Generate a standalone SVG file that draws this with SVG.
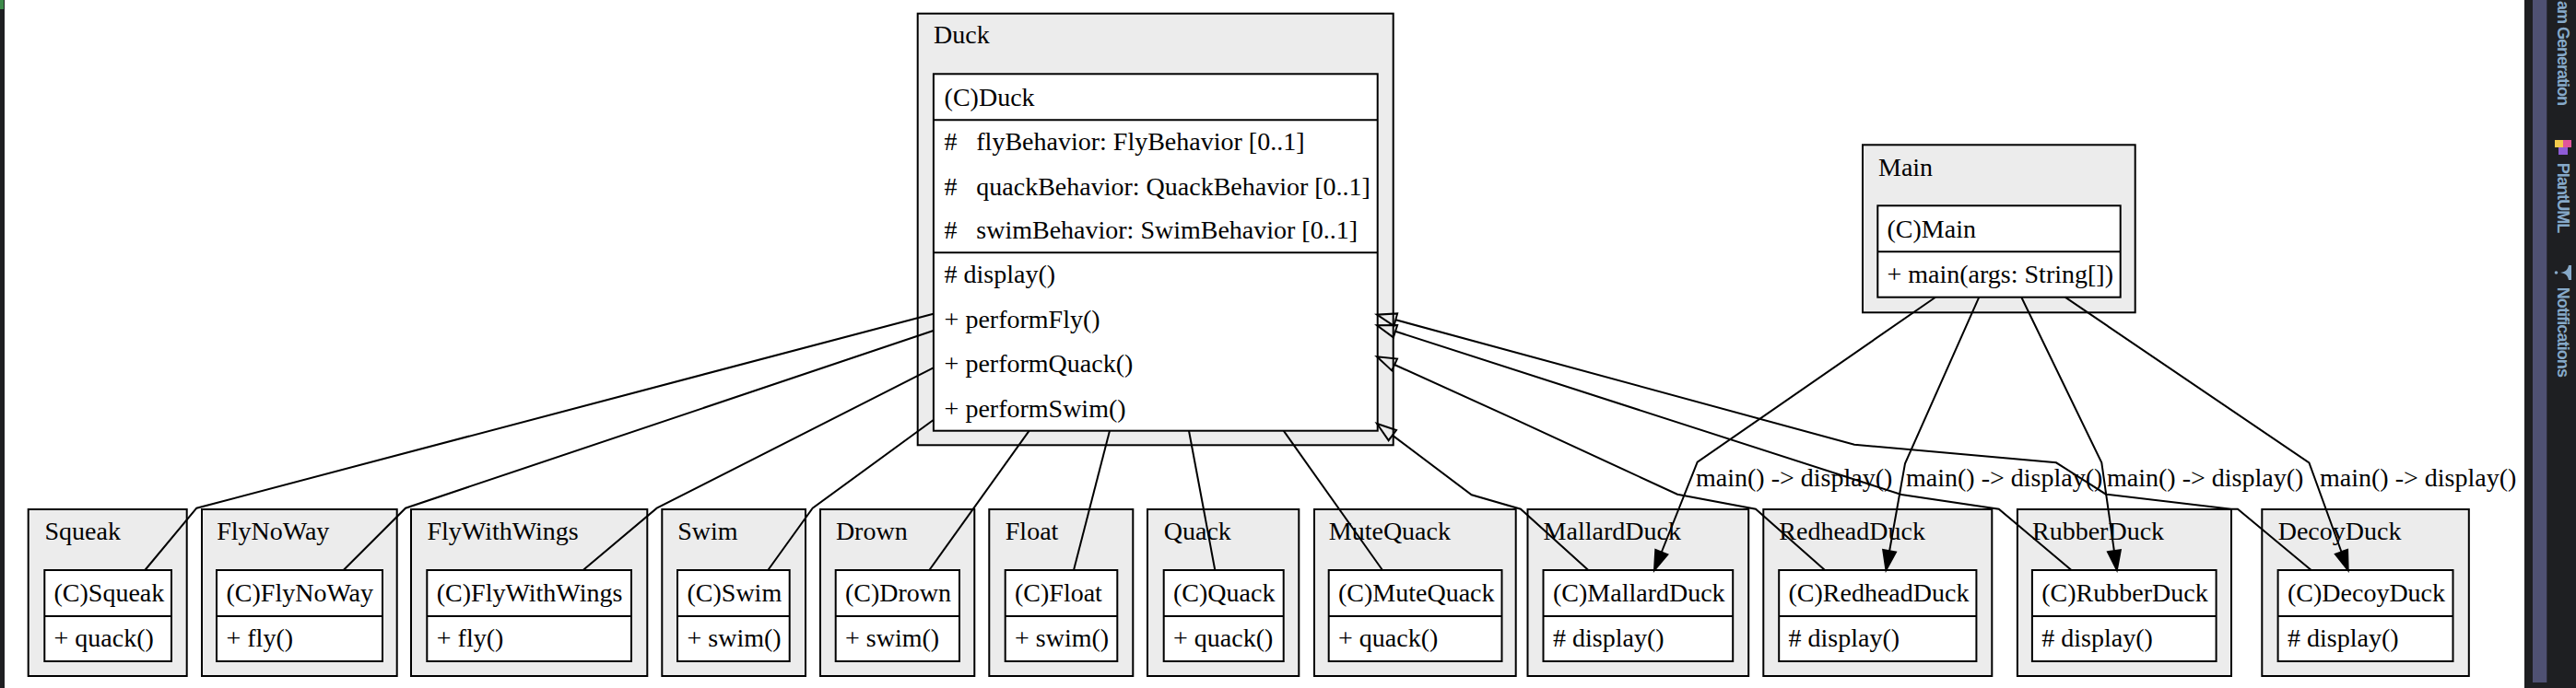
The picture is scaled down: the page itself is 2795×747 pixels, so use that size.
<svg xmlns="http://www.w3.org/2000/svg" width="2795" height="747" viewBox="0 0 2795 747">
<style>
.o{fill:#ececec;stroke:#000;stroke-width:2}
.i{fill:#fff;stroke:#000;stroke-width:2}
.d{stroke:#000;stroke-width:2}
.t{font-family:"Liberation Serif","Times New Roman",serif;font-size:28px;fill:#000}
.e{fill:none;stroke:#000;stroke-width:2}
.h{marker-end:url(#tri)}
.a{marker-end:url(#arr)}
.side{font-family:"Liberation Sans",Arial,sans-serif;font-size:18px;font-weight:600;fill:#86a9c9}
</style>
<defs>
<marker id="tri" markerUnits="userSpaceOnUse" orient="auto" refX="0" refY="0" markerWidth="30" markerHeight="20" viewBox="-2 -10 30 20" overflow="visible"><path d="M0,-7 L21,0 L0,7 Z" fill="none" stroke="#000" stroke-width="2"/></marker>
<marker id="arr" markerUnits="userSpaceOnUse" orient="auto" refX="0" refY="0" markerWidth="30" markerHeight="20" viewBox="-2 -10 30 20" overflow="visible"><path d="M0,-7 L21,0 L0,7 Z" fill="#000" stroke="#000" stroke-width="2"/></marker>
</defs>
<rect x="0" y="0" width="2795" height="747" fill="#fff"/>
<rect x="0" y="0" width="5" height="747" fill="#1e1f22"/>
<rect x="0" y="0" width="4" height="10" fill="#3d8a4a"/>

<g id="Duck">
<rect class="o" x="995.7" y="14.7" width="516" height="468.6"/>
<text class="t" x="1013" y="46.7">Duck</text>
<rect class="i" x="1012.9" y="80.3" width="481.8" height="387.4"/>
<line class="d" x1="1012.9" y1="130.3" x2="1494.7" y2="130.3"/>
<line class="d" x1="1012.9" y1="274.3" x2="1494.7" y2="274.3"/>
<text class="t" x="1024.6" y="115">(C)Duck</text>
<text class="t" x="1024.6" y="163.3"># <tspan x="1059.3">flyBehavior: FlyBehavior [0..1]</tspan></text>
<text class="t" x="1024.6" y="211.5"># <tspan x="1059.3">quackBehavior: QuackBehavior [0..1]</tspan></text>
<text class="t" x="1024.6" y="258.8"># <tspan x="1059.3">swimBehavior: SwimBehavior [0..1]</tspan></text>
<text class="t" x="1024.6" y="307"># display()</text>
<text class="t" x="1024.6" y="355.7">+ performFly()</text>
<text class="t" x="1024.6" y="404">+ performQuack()</text>
<text class="t" x="1024.6" y="452.5">+ performSwim()</text>
</g>

<g id="Main">
<rect class="o" x="2021" y="157.3" width="295.7" height="182"/>
<text class="t" x="2038" y="190.7">Main</text>
<rect class="i" x="2037.3" y="223.3" width="263.4" height="99.4"/>
<line class="d" x1="2037.3" y1="273.3" x2="2300.7" y2="273.3"/>
<text class="t" x="2047.5" y="258.3">(C)Main</text>
<text class="t" x="2047.5" y="306.7">+ main(args: String[])</text>
</g>

<g id="Squeak">
<rect class="o" x="30.7" y="553" width="172" height="181"/>
<text class="t" x="48.5" y="586">Squeak</text>
<rect class="i" x="48.3" y="619" width="137.7" height="99"/>
<line class="d" x1="48.3" y1="669" x2="186" y2="669"/>
<text class="t" x="58.5" y="653.3">(C)Squeak</text>
<text class="t" x="58.5" y="702">+ quack()</text>
</g>
<g id="FlyNoWay">
<rect class="o" x="219" y="553" width="211.7" height="181"/>
<text class="t" x="235.2" y="586">FlyNoWay</text>
<rect class="i" x="235" y="619" width="180" height="99"/>
<line class="d" x1="235" y1="669" x2="415" y2="669"/>
<text class="t" x="245.5" y="653.3">(C)FlyNoWay</text>
<text class="t" x="245.5" y="702">+ fly()</text>
</g>
<g id="FlyWithWings">
<rect class="o" x="446" y="553" width="256.3" height="181"/>
<text class="t" x="463.5" y="586">FlyWithWings</text>
<rect class="i" x="463.3" y="619" width="221.7" height="99"/>
<line class="d" x1="463.3" y1="669" x2="685" y2="669"/>
<text class="t" x="473.8" y="653.3">(C)FlyWithWings</text>
<text class="t" x="473.8" y="702">+ fly()</text>
</g>
<g id="Swim">
<rect class="o" x="718.3" y="553" width="155.7" height="181"/>
<text class="t" x="735.2" y="586">Swim</text>
<rect class="i" x="735" y="619" width="121.7" height="99"/>
<line class="d" x1="735" y1="669" x2="856.7" y2="669"/>
<text class="t" x="745.5" y="653.3">(C)Swim</text>
<text class="t" x="745.5" y="702">+ swim()</text>
</g>
<g id="Drown">
<rect class="o" x="890" y="553" width="167.3" height="181"/>
<text class="t" x="906.9" y="586">Drown</text>
<rect class="i" x="906.7" y="619" width="134.3" height="99"/>
<line class="d" x1="906.7" y1="669" x2="1041" y2="669"/>
<text class="t" x="917" y="653.3">(C)Drown</text>
<text class="t" x="917" y="702">+ swim()</text>
</g>
<g id="Float">
<rect class="o" x="1073.3" y="553" width="156" height="181"/>
<text class="t" x="1090.8" y="586">Float</text>
<rect class="i" x="1090.7" y="619" width="121.6" height="99"/>
<line class="d" x1="1090.7" y1="669" x2="1212.3" y2="669"/>
<text class="t" x="1101" y="653.3">(C)Float</text>
<text class="t" x="1101" y="702">+ swim()</text>
</g>
<g id="Quack">
<rect class="o" x="1245" y="553" width="164.3" height="181"/>
<text class="t" x="1262.8" y="586">Quack</text>
<rect class="i" x="1262.7" y="619" width="130" height="99"/>
<line class="d" x1="1262.7" y1="669" x2="1392.7" y2="669"/>
<text class="t" x="1273" y="653.3">(C)Quack</text>
<text class="t" x="1273" y="702">+ quack()</text>
</g>
<g id="MuteQuack">
<rect class="o" x="1426" y="553" width="218.7" height="181"/>
<text class="t" x="1441.8" y="586">MuteQuack</text>
<rect class="i" x="1441.7" y="619" width="187.8" height="99"/>
<line class="d" x1="1441.7" y1="669" x2="1629.5" y2="669"/>
<text class="t" x="1452" y="653.3">(C)MuteQuack</text>
<text class="t" x="1452" y="702">+ quack()</text>
</g>
<g id="MallardDuck">
<rect class="o" x="1657.5" y="553" width="239.7" height="181"/>
<text class="t" x="1674.6" y="586">MallardDuck</text>
<rect class="i" x="1674.5" y="619" width="205.7" height="99"/>
<line class="d" x1="1674.5" y1="669" x2="1880.2" y2="669"/>
<text class="t" x="1685" y="653.3">(C)MallardDuck</text>
<text class="t" x="1685" y="702"># display()</text>
</g>
<g id="RedheadDuck">
<rect class="o" x="1913.3" y="553" width="248" height="181"/>
<text class="t" x="1930.3" y="586">RedheadDuck</text>
<rect class="i" x="1930.2" y="619" width="214.2" height="99"/>
<line class="d" x1="1930.2" y1="669" x2="2144.4" y2="669"/>
<text class="t" x="1940.5" y="653.3">(C)RedheadDuck</text>
<text class="t" x="1940.5" y="702"># display()</text>
</g>
<g id="RubberDuck">
<rect class="o" x="2188.9" y="553" width="232.1" height="181"/>
<text class="t" x="2205" y="586">RubberDuck</text>
<rect class="i" x="2204.9" y="619" width="199.7" height="99"/>
<line class="d" x1="2204.9" y1="669" x2="2404.6" y2="669"/>
<text class="t" x="2215.3" y="653.3">(C)RubberDuck</text>
<text class="t" x="2215.3" y="702"># display()</text>
</g>
<g id="DecoyDuck">
<rect class="o" x="2454.3" y="553" width="224.5" height="181"/>
<text class="t" x="2471.7" y="586">DecoyDuck</text>
<rect class="i" x="2471.6" y="619" width="189.9" height="99"/>
<line class="d" x1="2471.6" y1="669" x2="2661.5" y2="669"/>
<text class="t" x="2482" y="653.3">(C)DecoyDuck</text>
<text class="t" x="2482" y="702"># display()</text>
</g>

<g id="connectors">
<path class="e" d="M1012.7,340.7 L213.3,551.7 L157.3,619"/>
<path class="e" d="M1012.7,359 L440,551.7 L372.7,619"/>
<path class="e" d="M1012.7,399.3 L712.7,551.7 L632.7,619"/>
<path class="e" d="M1012.7,456 L881.7,551.7 L833.3,619"/>
<path class="e" d="M1116.7,467.7 L1008.3,619"/>
<path class="e" d="M1204,467.7 L1165,619"/>
<path class="e" d="M1290,467.7 L1318.3,619"/>
<path class="e" d="M1392.7,467.7 L1500,619"/>
<path class="e h" d="M1723.3,619 L1650,552.7 L1596.7,537.3 L1510.8,472.6"/>
<path class="e h" d="M1980,619 L1905,552.7 L1820,536.7 L1646.7,456.7 L1513.1,396"/>
<path class="e h" d="M2247.5,619 L2168.8,552.7 L2063,537 L1514,359.75"/>
<path class="e h" d="M2507.7,619 L2428,552.7 L2421,552.7 L2285,536.7 L2231,502.3 L2012,482.7 L1514.3,347.2"/>
<path class="e a" d="M2100,322.7 L1841.7,501.7 L1802.8,599.5"/>
<path class="e a" d="M2147.3,322.7 L2067,503.3 L2050.1,598.3"/>
<path class="e a" d="M2193.3,322.7 L2280.3,502.3 L2293.9,598.2"/>
<path class="e a" d="M2240.7,322.7 L2505.4,502.3 L2540.5,599.25"/>
<text class="t" x="1840" y="528.3">main() -&gt; display()</text>
<text class="t" x="2068" y="528.3">main() -&gt; display()</text>
<text class="t" x="2286" y="528.3">main() -&gt; display()</text>
<text class="t" x="2517" y="528.3">main() -&gt; display()</text>
</g>

<g id="sidepanel">
<rect x="2739" y="0" width="56" height="747" fill="#1e1f22"/>
<rect x="2748" y="0" width="15.3" height="741" fill="#4f5173"/>
<text class="side" transform="translate(2775,1) rotate(90)" textLength="114">am Generation</text>
<rect x="2772" y="152" width="9" height="8" fill="#f2c94c"/>
<rect x="2781" y="152" width="9" height="8" fill="#e0559b"/>
<rect x="2776" y="160" width="10" height="8" fill="#8e5bd6"/>
<text class="side" transform="translate(2775,176.7) rotate(90)" textLength="76.6">PlantUML</text>
<path d="M2790,288 L2790,304 L2787,304 C2786,298 2782,296 2776,296 L2776,296 C2782,296 2786,294 2787,288 Z" fill="#86a9c9"/>
<circle cx="2773.5" cy="296" r="1.8" fill="#86a9c9"/>
<text class="side" transform="translate(2775,311.7) rotate(90)" textLength="98.3">Notifications</text>
</g>
</svg>
